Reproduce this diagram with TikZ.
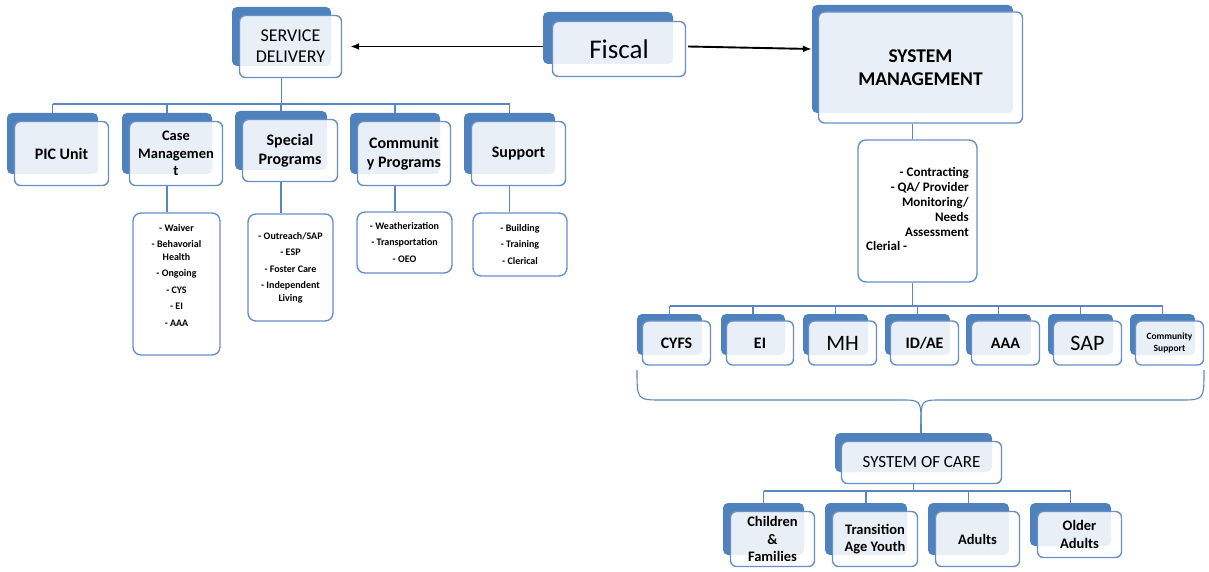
\documentclass[tikz,border=0pt]{standalone}
\usepackage{fontspec}
\setmainfont{Carlito}
\usetikzlibrary{arrows.meta}

\definecolor{boxblue}{HTML}{4F81BD}
\definecolor{edgeblue}{HTML}{6890C8}
\definecolor{linkblue}{HTML}{5A86C0}

\tikzset{
  backbox/.style={fill=boxblue, rounded corners=5pt, inner sep=0pt},
  frontbox/.style={draw=edgeblue, line width=1.4pt, fill=white, fill opacity=0.88,
    text opacity=1, rounded corners=6pt, align=center, inner sep=1pt,
    xshift=9pt, yshift=-10pt},
  listbox/.style={draw=edgeblue, line width=1.4pt, fill=white, rounded corners=8pt,
    align=center, inner sep=1pt, font=\fontsize{10}{12.5}\selectfont\bfseries},
  link/.style={draw=linkblue, line width=1.1pt},
  arr/.style={line width=1.9pt, -{Latex[length=9pt,width=7pt]}},
  headtxt/.style={font=\fontsize{18}{21}\selectfont},
  fisctxt/.style={font=\fontsize{27}{32}\selectfont},
  mgmttxt/.style={font=\fontsize{19.5}{23}\selectfont\bfseries},
  unittxt/.style={font=\fontsize{16}{19}\selectfont\bfseries},
  smalltxt/.style={font=\fontsize{14.5}{17.5}\selectfont\bfseries},
  bigtxt/.style={font=\fontsize{22}{26}\selectfont},
  tinytxt/.style={font=\fontsize{9.5}{12}\selectfont\bfseries},
  soctxt/.style={font=\fontsize{17}{20}\selectfont},
  listtxt/.style={font=\fontsize{10}{12.5}\selectfont\bfseries, align=center, inner sep=0pt},
  tasktxt/.style={font=\fontsize{13}{15}\selectfont\bfseries, inner sep=0pt}
}

% blue card behind, pale card in front: [front options]{name}{centre of back}{w}{h}{text}
\newcommand{\dualbox}[6][]{%
  \node[backbox, minimum width=#4pt, minimum height=#5pt] (#2-b) at (#3) {};
  \node[frontbox, minimum width=#4pt+3pt, minimum height=#5pt+3pt, #1] (#2) at (#3) {#6};
}

\begin{document}
\begin{tikzpicture}[x=1pt, y=-1pt]
  \useasboundingbox (0,0) rectangle (1209,572);

  % Top row
  \dualbox[headtxt]{sd}{281.5,36.5}{99}{59}{SERVICE\\DELIVERY}
  \dualbox[fisctxt, xshift=2pt, yshift=-1pt]{fiscal}{608,38}{130}{52}{Fiscal}
  \dualbox[mgmttxt, xshift=-1pt, yshift=1.5pt]{sm}{912.5,59}{201}{108}{SYSTEM\\MANAGEMENT}

  % Service delivery units
  \dualbox[unittxt]{pic}{52.5,143.5}{91}{61}{PIC Unit}
  \dualbox[smalltxt]{cm}{167,143.5}{90}{61}{Case\\Managemen\\t}
  \dualbox[unittxt]{sp}{281,140.5}{92}{59}{Special\\Programs}
  \dualbox[unittxt]{cp}{395,143.5}{90}{61}{Communit\\y Programs}
  \dualbox[unittxt]{sup}{509.5,143.5}{91}{61}{Support}

  % Lists under the units
  \node[listbox, minimum width=87pt, minimum height=142pt] (cm-list) at (176.5,284) {};
  \node[listtxt] (cm-items) at (176.5,275) {- Waiver\\[4pt]- Behavorial\\Health\\[4pt]- Ongoing\\[4pt]- CYS\\[4pt]- EI\\[4pt]- AAA};
  \node[listbox, minimum width=85pt, minimum height=107pt] (sp-list) at (290.5,267.5) {- Outreach/SAP\\[4pt]- ESP\\[4pt]- Foster Care\\[4pt]- Independent\\Living};
  \node[listbox, minimum width=95pt, minimum height=61pt] (cp-list) at (404.5,242.5) {- Weatherization\\[4pt]- Transportation\\[4pt]- OEO};
  \node[listbox, minimum width=94pt, minimum height=63pt] (sup-list) at (520,244.5) {- Building\\[4pt]- Training\\[4pt]- Clerical};

  % System management duties
  \node[listbox, minimum width=119pt, minimum height=142pt] (sm-tasks) at (917.5,211) {};
  \node[tasktxt, anchor=north east, align=right] (sm-duties) at (969,167) {- Contracting\\- QA/ Provider\\Monitoring/\\Needs\\Assessment};
  \node[tasktxt, anchor=west] (sm-clerk) at (866,246) {Clerial -};

  % Programs
  \dualbox[unittxt, xshift=-2pt, yshift=1.5pt]{cyfs}{669.5,334.5}{65}{41}{CYFS}
  \dualbox[unittxt, xshift=-2pt, yshift=1.5pt]{ei}{753,334.5}{64}{41}{EI}
  \dualbox[bigtxt, xshift=-2pt, yshift=1.5pt]{mh}{835.5,334.5}{65}{41}{MH}
  \dualbox[unittxt, xshift=-2pt, yshift=1.5pt]{idae}{917.5,334.5}{65}{41}{ID/AE}
  \dualbox[unittxt, xshift=-2pt, yshift=1.5pt]{aaa}{998.5,334.5}{65}{41}{AAA}
  \dualbox[bigtxt, xshift=-2pt, yshift=1.5pt]{sap}{1080.5,334.5}{65}{41}{SAP}
  \dualbox[tinytxt, xshift=-2pt, yshift=1.5pt]{cs}{1162.5,334.5}{65}{41}{Community\\Support}

  % System of care
  \dualbox[soctxt, xshift=-1pt]{soc}{913.5,452.5}{157}{39}{SYSTEM OF CARE}
  \dualbox[smalltxt]{cf}{763.5,529}{81}{52}{Children\\\&\\Families}
  \dualbox[smalltxt]{tay}{866,529}{82}{52}{Transition\\Age Youth}
  \dualbox[smalltxt]{ad}{968.5,529}{81}{52}{Adults}
  \dualbox[smalltxt]{oa}{1070.5,524.5}{81}{43}{Older\\Adults}

  % Service delivery tree
  \coordinate (sdbus) at (281.5,104);
  \draw[link] (sd-b |- sd.south) -- (sdbus);
  \draw[link] (pic-b |- sdbus) -- (sup-b |- sdbus);
  \foreach \n in {pic,cm,sp,cp,sup}
    \draw[link] (\n-b |- sdbus) -- (\n-b.north);
  \foreach \n in {cm,sp,cp,sup}
    \draw[link] (\n-b |- \n.south) -- (\n-b |- \n-list.north);

  % System management tree
  \coordinate (smbus) at (912.5,306);
  \draw[link] (sm-b |- sm.south) -- (sm-b |- sm-tasks.north);
  \draw[link] (sm-b |- sm-tasks.south) -- (smbus);
  \draw[link] (cyfs-b |- smbus) -- (cs-b |- smbus);
  \foreach \n in {cyfs,ei,mh,idae,aaa,sap,cs}
    \draw[link] (\n-b |- smbus) -- (\n-b.north);

  % Brace down to system of care
  \coordinate (brace-l) at (637,370);
  \coordinate (brace-r) at (1204,370);
  \coordinate (brace-tip) at (921,424);
  \draw[link] (brace-l) .. controls (637,400) .. (662,400) -- (900,400) .. controls (921,400) .. (brace-tip);
  \draw[link] (brace-r) .. controls (1204,400) .. (1180,400) -- (942,400) .. controls (921,400) .. (brace-tip);
  \draw[link] (brace-tip) -- (brace-tip |- soc-b.north);

  \coordinate (socbus) at (913.5,491);
  \draw[link] (soc-b |- soc.south) -- (socbus);
  \draw[link] (cf-b |- socbus) -- (oa-b |- socbus);
  \foreach \n in {cf,tay,ad,oa}
    \draw[link] (\n-b |- socbus) -- (\n-b.north);

  % Fiscal arrows
  \draw[arr] (fiscal-b.west |- sd.east) -- ([xshift=8pt]sd.east);
  \draw[arr] ([xshift=2pt,yshift=2.5pt]fiscal.east) -- ([yshift=10pt]sm-b.west);
\end{tikzpicture}
\end{document}
